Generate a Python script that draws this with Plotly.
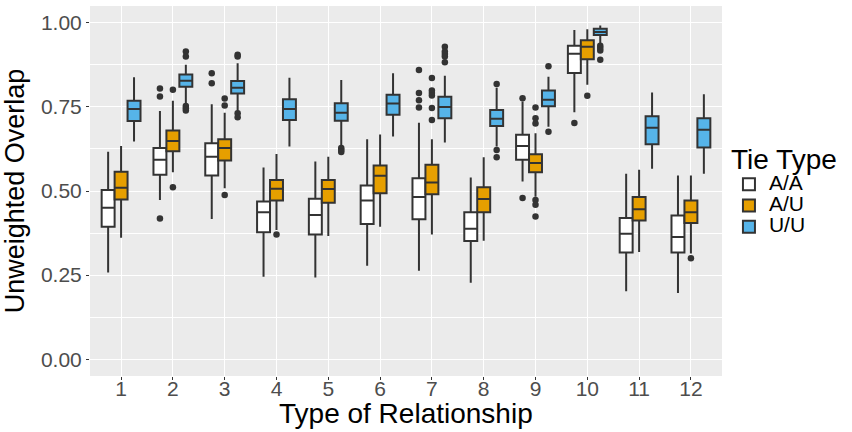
import plotly.graph_objects as go

categories = ["1", "2", "3", "4", "5", "6", "7", "8", "9", "10", "11", "12"]
series_names = ["A/A", "A/U", "U/U"]
series_colors = ["#FFFFFF", "#E69F00", "#56B4E9"]

# box statistics per series: lower whisker, q1, median, q3, upper whisker
aa_low = [0.258, 0.473, 0.417, 0.245, 0.243, 0.278, 0.263, 0.227, 0.528, 0.734, 0.202, 0.197]
aa_q1 = [0.394, 0.548, 0.546, 0.377, 0.371, 0.402, 0.416, 0.351, 0.593, 0.851, 0.317, 0.317]
aa_med = [0.450, 0.593, 0.602, 0.437, 0.429, 0.472, 0.482, 0.388, 0.634, 0.908, 0.373, 0.363]
aa_q3 = [0.503, 0.628, 0.642, 0.469, 0.477, 0.516, 0.538, 0.437, 0.667, 0.932, 0.420, 0.427]
aa_high = [0.617, 0.738, 0.758, 0.570, 0.588, 0.654, 0.703, 0.540, 0.766, 0.979, 0.551, 0.546]

au_low = [0.361, 0.556, 0.508, 0.384, 0.366, 0.394, 0.371, 0.352, 0.483, 0.816, 0.319, 0.314]
au_q1 = [0.475, 0.618, 0.591, 0.472, 0.465, 0.493, 0.490, 0.437, 0.556, 0.892, 0.412, 0.405]
au_med = [0.510, 0.649, 0.628, 0.507, 0.506, 0.545, 0.525, 0.476, 0.583, 0.929, 0.446, 0.437]
au_q3 = [0.557, 0.680, 0.654, 0.533, 0.533, 0.576, 0.578, 0.511, 0.609, 0.948, 0.482, 0.472]
au_high = [0.634, 0.768, 0.733, 0.610, 0.602, 0.668, 0.654, 0.600, 0.672, 0.981, 0.563, 0.546]

uu_low = [0.647, 0.761, 0.736, 0.632, 0.632, 0.662, 0.644, 0.632, 0.691, 0.938, 0.566, 0.551]
uu_q1 = [0.708, 0.810, 0.790, 0.711, 0.709, 0.727, 0.716, 0.693, 0.752, 0.964, 0.639, 0.629]
uu_med = [0.744, 0.828, 0.807, 0.744, 0.733, 0.760, 0.750, 0.715, 0.771, 0.973, 0.688, 0.682]
uu_q3 = [0.768, 0.846, 0.827, 0.773, 0.761, 0.786, 0.780, 0.741, 0.799, 0.982, 0.722, 0.716]
uu_high = [0.838, 0.875, 0.880, 0.837, 0.830, 0.850, 0.843, 0.807, 0.840, 0.992, 0.793, 0.788]

# outliers per series
aa_out_x = ["2", "2", "2", "3", "3", "7", "7", "7", "7", "9", "9", "10"]
aa_out_y = [0.805, 0.781, 0.418, 0.850, 0.820, 0.860, 0.791, 0.770, 0.748, 0.776, 0.479, 0.702]

au_out_x = ["2", "2", "3", "3", "3", "4", "7", "7", "7", "7", "7", "7",
            "9", "9", "9", "9", "9", "9", "10", "12"]
au_out_y = [0.801, 0.511, 0.775, 0.754, 0.488, 0.371, 0.836, 0.799, 0.791, 0.784, 0.747, 0.711,
            0.748, 0.716, 0.701, 0.473, 0.459, 0.424, 0.783, 0.300]

uu_out_x = ["2", "2", "2", "2", "2", "3", "3", "3", "3", "5", "5", "5",
            "7", "7", "7", "7", "7", "8", "8", "8", "9", "9", "10", "10", "10", "10"]
uu_out_y = [0.915, 0.900, 0.753, 0.746, 0.739, 0.905, 0.900, 0.731, 0.719, 0.628, 0.622, 0.616,
            0.929, 0.915, 0.907, 0.900, 0.883, 0.818, 0.622, 0.600, 0.871, 0.676, 0.932, 0.925, 0.918, 0.890]

y_ticks = [0.0, 0.25, 0.5, 0.75, 1.0]
y_tick_labels = ["0.00", "0.25", "0.50", "0.75", "1.00"]
x_title = "Type of Relationship"
y_title = "Unweighted Overlap"
legend_title = "Tie Type"

stats = [
    (aa_low, aa_q1, aa_med, aa_q3, aa_high),
    (au_low, au_q1, au_med, au_q3, au_high),
    (uu_low, uu_q1, uu_med, uu_q3, uu_high),
]
outliers = [(aa_out_x, aa_out_y), (au_out_x, au_out_y), (uu_out_x, uu_out_y)]

FONT = "Liberation Sans, Arial, Helvetica, sans-serif"
LINE = "#333333"

fig = go.Figure()
for i, name in enumerate(series_names):
    lo, q1, med, q3, hi = stats[i]
    fig.add_trace(go.Box(
        name="<span style='font-size:21px'>%s</span>" % name,
        x=categories, q1=q1, median=med, q3=q3,
        lowerfence=lo, upperfence=hi,
        fillcolor=series_colors[i],
        line=dict(color=LINE, width=2),
        whiskerwidth=0,
        offsetgroup=name, alignmentgroup="g",
        boxpoints=False,
        hoverinfo="skip",
    ))
for i, name in enumerate(series_names):
    ox, oy = outliers[i]
    fig.add_trace(go.Scatter(
        x=ox, y=oy, mode="markers",
        marker=dict(color=LINE, size=6.5),
        offsetgroup=name, alignmentgroup="g",
        showlegend=False, hoverinfo="skip",
    ))

fig.update_layout(
    width=852, height=432,
    margin=dict(l=90, r=130, t=6, b=56),
    paper_bgcolor="white",
    plot_bgcolor="#EBEBEB",
    boxmode="group", boxgap=0.25, boxgroupgap=0,
    scattermode="group", scattergap=0.25,
    font=dict(family=FONT, color="black"),
    legend=dict(
        title=dict(text=legend_title, font=dict(size=28, color="black")),
        font=dict(size=14, color="black"),
        x=1.011, xanchor="left", y=0.51, yanchor="middle",
        bgcolor="rgba(0,0,0,0)", tracegroupgap=0,
    ),
    showlegend=True,
    annotations=[dict(
        text=x_title, xref="paper", yref="paper", x=0.5, y=-0.102,
        xanchor="center", yanchor="middle", showarrow=False,
        font=dict(size=28, color="black", family=FONT),
    )],
)
fig.update_xaxes(
    type="category", categoryorder="array", categoryarray=categories,
    range=[-0.6, 11.6], automargin=False,
    showgrid=True, gridcolor="white", gridwidth=1.4,
    ticks="outside", ticklen=3, tickcolor=LINE, tickwidth=1,
    ticklabelstandoff=-9,
    tickfont=dict(size=21, color="#4D4D4D"),
    zeroline=False, showline=False,
)
fig.update_yaxes(
    range=[-0.05, 1.05], automargin=False,
    tickvals=y_ticks, ticktext=y_tick_labels,
    showgrid=True, gridcolor="white", gridwidth=1.4,
    minor=dict(dtick=0.125, tick0=0, showgrid=True, gridcolor="white", gridwidth=0.6, ticks=""),
    ticks="outside", ticklen=3, tickcolor=LINE, tickwidth=1,
    tickfont=dict(size=21, color="#4D4D4D"),
    title=dict(text=y_title, font=dict(size=27, color="black")),
    zeroline=False, showline=False,
)

fig.write_html(
    "out.html",
    config={"displayModeBar": False},
    post_script="document.body.style.margin='0';document.body.style.overflow='hidden';",
)
